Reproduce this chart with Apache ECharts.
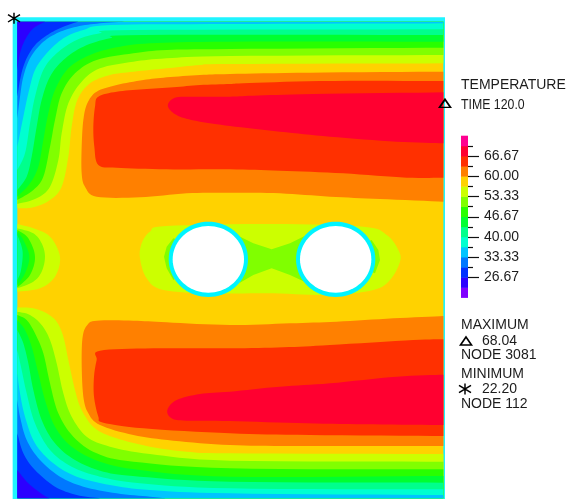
<!DOCTYPE html>
<html><head><meta charset="utf-8">
<style>html,body{margin:0;padding:0;background:#fff}#c{width:568px;height:499px}</style>
<script src="https://cdn.jsdelivr.net/npm/echarts@6/dist/echarts.min.js"></script>
</head><body><div id="c"></div>
<script>
// Legend scale: band edges and band colours (lowest first)
const bandEdges = [20,23.33,26.67,30,33.33,36.67,40,43.33,46.67,50,53.33,56.67,60,63.33,66.67,70,73.33];
const bandColors = ['#8000ff','#2c00ff','#0030ff','#0078ff','#00c4ff','#00ffd0','#00ff8c','#00ff30','#28ff00','#80ff00','#ccff00','#ffd200','#ff8000','#ff3000','#ff0030','#ff0090'];
const majorTicks = [26.67,33.33,40,46.67,53.33,60,66.67];
const minorTicks = [30,36.67,43.33,50,56.67,63.33,70];

// Plate coordinates
const plateFrame = [[38,52],[1335,52],[1335,1498],[38,1498]];
const plateInner = [[52,65],[1330,65],[1330,1495],[52,1495]];
const holeCenters = [[625,778],[1007,778]];

// Cold contours from the upper edge: T = level, running from left wall
const upper5667 = [[52,625],[100,622],[150,600],[185,560],[205,470],[215,380],[232,300],[270,250],[330,225],[400,215],[500,205],[600,195],[690,192],[1330,190]];
const upper5333 = [[52,612],[110,595],[150,560],[175,480],[185,400],[205,310],[245,245],[300,205],[400,185],[500,175],[690,168],[1330,165]];
const upper5000 = [[52,600],[100,570],[130,530],[150,440],[165,360],[185,280],[225,220],[290,180],[400,160],[500,150],[690,147],[1330,143]];
const upper4667 = [[52,590],[90,550],[115,500],[130,420],[145,340],[165,270],[205,205],[270,165],[350,142],[450,130],[690,125],[1330,125]];
const upper4333 = [[52,570],[80,530],[95,470],[110,380],[125,300],[150,230],[190,180],[250,140],[330,115],[430,105],[1330,105]];
const upper4000 = [[52,510],[75,460],[90,370],[105,290],[130,210],[170,160],[230,120],[300,100],[400,90],[1330,88]];
const upper3667 = [[52,440],[60,400],[70,350],[85,280],[105,210],[140,160],[190,115],[250,90],[330,75],[690,72],[1330,70]];
const upper3333 = [[52,355],[60,290],[70,230],[90,175],[125,130],[170,100],[230,80],[300,70],[380,65]];
const upper3000 = [[52,290],[60,240],[70,200],[85,165],[110,130],[150,100],[190,80],[235,65]];
const upper2667 = [[52,210],[60,160],[75,120],[100,85],[135,65]];

// Cold contours from the lower edge
const lower5667 = [[52,922],[100,925],[140,940],[170,965],[190,1010],[205,1080],[225,1170],[245,1230],[285,1285],[350,1315],[450,1340],[560,1355],[690,1360],[1330,1362]];
const lower5333 = [[52,935],[90,945],[125,975],[150,1020],[170,1090],[190,1180],[215,1250],[260,1310],[330,1340],[450,1362],[690,1382],[1330,1385]];
const lower5000 = [[52,945],[80,960],[105,1000],[130,1060],[150,1150],[175,1240],[220,1310],[290,1360],[400,1385],[690,1405],[1330,1408]];
const lower4667 = [[52,960],[75,990],[95,1040],[115,1120],[135,1200],[165,1280],[215,1340],[300,1385],[420,1410],[690,1430],[1330,1428]];
const lower4333 = [[52,990],[70,1030],[85,1090],[100,1170],[125,1260],[165,1330],[225,1380],[310,1415],[420,1430],[690,1445],[1330,1448]];
const lower4000 = [[52,1050],[65,1110],[80,1180],[105,1270],[150,1350],[215,1400],[300,1430],[420,1450],[690,1465],[1330,1468]];
const lower3667 = [[52,1120],[60,1180],[75,1250],[105,1330],[160,1390],[230,1430],[330,1455],[450,1470],[690,1480],[1330,1485]];
const lower3333 = [[52,1200],[60,1250],[80,1320],[120,1380],[180,1430],[250,1460],[350,1480],[450,1490],[500,1495]];
const lower3000 = [[52,1300],[70,1360],[105,1410],[165,1460],[230,1485],[300,1495]];
const lower2667 = [[52,1410],[85,1450],[130,1485],[150,1495]];

// Cold lobe on the left wall
const lobe5667 = [[52,672],[100,685],[150,710],[180,770],[165,830],[120,865],[52,875]];
const lobe5333 = [[52,685],[100,700],[125,730],[135,770],[125,815],[100,845],[52,865]];
const lobe5000 = [[52,690],[85,715],[105,770],[90,825],[52,862]];
const lobe4667 = [[52,695],[70,720],[88,770],[75,820],[52,855]];
const lobe4333 = [[52,705],[65,740],[68,770],[62,815],[52,840]];

// Cooler zones round the two holes
const holes5667 = [[420,775],[425,730],[450,695],[500,678],[820,672],[1090,680],[1160,705],[1195,750],[1200,785],[1170,840],[1120,870],[990,885],[820,880],[640,880],[490,870],[440,835]];
const holes5333 = [[520,715],[620,750],[710,705],[760,730],[815,748],[870,730],[920,705],[1010,770],[1115,720],[1135,750],[1140,780],[1125,820],[1010,770],[920,848],[870,825],[815,805],[760,825],[720,848],[620,780],[520,840],[500,805],[492,770],[500,740]];

// Hot zones
const hotUpper6000 = [[1330,215],[930,218],[690,222],[600,225],[500,232],[430,240],[350,255],[290,275],[262,310],[250,360],[245,440],[245,520],[255,560],[290,590],[420,592],[560,580],[690,578],[840,580],[990,590],[1140,597],[1330,605]];
const hotUpper6333 = [[1330,243],[960,243],[730,250],[690,252],[600,255],[520,262],[430,268],[350,275],[295,290],[285,320],[280,380],[283,440],[295,495],[350,503],[500,508],[690,508],[840,512],[1030,520],[1220,533],[1330,533]];
const hotUpper6667 = [[1330,277],[940,282],[760,287],[690,290],[600,290],[530,292],[505,310],[510,330],[540,350],[600,365],[690,378],[840,395],[990,410],[1190,425],[1330,430]];
const hotLower6000 = [[1330,948],[1180,955],[1010,965],[870,970],[690,975],[500,967],[400,962],[290,962],[262,975],[248,1010],[245,1090],[250,1190],[265,1240],[300,1275],[400,1305],[520,1322],[690,1335],[890,1338],[1330,1338]];
const hotLower6333 = [[1330,1018],[1240,1020],[990,1035],[850,1042],[690,1045],[460,1045],[300,1052],[290,1080],[282,1130],[282,1190],[295,1250],[310,1268],[430,1285],[690,1300],[930,1305],[1330,1308]];
const hotLower6667 = [[1330,1124],[1190,1130],[990,1150],[840,1160],[690,1175],[600,1182],[530,1200],[502,1230],[515,1255],[560,1262],[690,1263],[920,1270],[1120,1273],[1330,1275]];

// Node markers
const maxNode = [[1335,310],[1398,1023]];
const minNode = [[42,55],[1395,1167]];

// Regions: "curve" is rounded on screen, "tail" runs along the plate edge
const regions = [
  {curve: [], tail: plateFrame, color: '#1ff4ff'},
  {curve: [], tail: plateInner, color: bandColors[11]}
];
const add = (curve, tail, i, closed) => regions.push({curve, tail, closed, color: bandColors[i]});
const tailTop = c => (c[c.length-1][0] === 1330 ? [[1330,65]] : []).concat([[52,65]]);
const tailBottom = c => (c[c.length-1][0] === 1330 ? [[1330,1495]] : []).concat([[52,1495]]);
[upper5667,upper5333,upper5000,upper4667,upper4333,upper4000,upper3667,upper3333,upper3000,upper2667]
  .forEach((c,k) => add(c, tailTop(c), 10-k));
[lower5667,lower5333,lower5000,lower4667,lower4333,lower4000,lower3667,lower3333,lower3000,lower2667]
  .forEach((c,k) => add(c, tailBottom(c), 10-k));
[lobe5667,lobe5333,lobe5000,lobe4667,lobe4333].forEach((c,k) => add(c, [], 10-k));
add(holes5667, [], 10, true);
add([], holes5333, 9);
add(hotUpper6000,[],12); add(hotUpper6333,[],13); add(hotUpper6667,[],14);
add(hotLower6000,[],12); add(hotLower6333,[],13); add(hotLower6667,[],14);
const ringItems = [];
holeCenters.forEach(c => {
  ringItems.push({c, rx:119, ry:113, color:'#00f4ff'});
  ringItems.push({c, rx:107, ry:100, color:'#ffffff'});
});
const tickItems = majorTicks.map(v=>[v,11]).concat(minorTicks.map(v=>[v,5]));

// Screen-space Catmull-Rom rounding of a contour drawn through its read points
function rounded(p, closed){
  if(p.length<3) return p;
  const n=p.length, out=[], at=i=>closed?p[(i+n)%n]:p[Math.max(0,Math.min(n-1,i))];
  const last=closed?n:n-1;
  for(let i=0;i<last;i++){
    const a=at(i-1),b=at(i),c=at(i+1),d=at(i+2);
    for(let s=0;s<8;s++){
      const t=s/8,t2=t*t,t3=t2*t;
      out.push([0,1].map(k=>0.5*(2*b[k]+(c[k]-a[k])*t+(2*a[k]-5*b[k]+4*c[k]-d[k])*t2+(3*b[k]-a[k]-3*c[k]+d[k])*t3)));
    }
  }
  if(!closed) out.push(p[n-1]);
  return out;
}

const chart = echarts.init(document.getElementById('c'), null, {renderer:'canvas', width:568, height:499});
const txt = (text, x, y, extra) => ({type:'text', x, y, silent:true, ...extra,
  style:{text, fontFamily:'Liberation Sans', fontSize:14, fill:'#1c1c1c', verticalAlign:'middle'}});
chart.setOption({
  animation:false,
  backgroundColor:'#fff',
  grid:[
    {left:0, top:0, width:568, height:499, containLabel:false},
    {left:461, top:135.7, width:7, height:161.7, containLabel:false}
  ],
  xAxis:[
    {gridIndex:0, type:'value', min:0, max:1704, show:false},
    {gridIndex:1, type:'value', min:0, max:1, show:false}
  ],
  yAxis:[
    {gridIndex:0, type:'value', min:0, max:1497, inverse:true, show:false},
    {gridIndex:1, type:'value', min:20, max:73.33, position:'right',
     axisLine:{show:false}, splitLine:{show:false}, axisTick:{show:false},
     axisLabel:{show:true, customValues:majorTicks, margin:16, color:'#1c1c1c', fontFamily:'Liberation Sans', fontSize:14,
       formatter:v=>Number(v).toFixed(2)}}
  ],
  series:[
    {type:'custom', xAxisIndex:0, yAxisIndex:0, silent:true, clip:false,
     data:regions.map((r,i)=>[(r.curve[0]||r.tail[0])[0], (r.curve[0]||r.tail[0])[1], i]),
     renderItem:(p,api)=>{
       const r=regions[p.dataIndex];
       const pts=rounded(r.curve.map(q=>api.coord(q)), r.closed).concat(r.tail.map(q=>api.coord(q)));
       return {type:'polygon', shape:{points:pts}, style:{fill:r.color}};
     }},
    {type:'custom', xAxisIndex:0, yAxisIndex:0, silent:true, clip:false,
     data:ringItems.map((r,i)=>[r.c[0], r.c[1], i]),
     renderItem:(p,api)=>{
       const r=ringItems[p.dataIndex], pts=[];
       for(let a=0;a<72;a++){const t=a/72*2*Math.PI; pts.push(api.coord([r.c[0]+r.rx*Math.cos(t), r.c[1]+r.ry*Math.sin(t)]));}
       return {type:'polygon', shape:{points:pts}, style:{fill:r.color}};
     }},
    {type:'custom', xAxisIndex:1, yAxisIndex:1, silent:true,
     data:bandColors.map((c,i)=>[0, bandEdges[i], bandEdges[i+1], i]),
     renderItem:(p,api)=>{
       const i=p.dataIndex, a=api.coord([0,bandEdges[i]]), b=api.coord([1,bandEdges[i+1]]);
       return {type:'rect', shape:{x:a[0], y:b[1], width:b[0]-a[0], height:a[1]-b[1]+0.5}, style:{fill:bandColors[i]}};
     }},
    {type:'custom', xAxisIndex:1, yAxisIndex:1, silent:true, clip:false,
     data:tickItems.map(t=>[1,t[0],t[1]]),
     renderItem:(p,api)=>{
       const t=tickItems[p.dataIndex], a=api.coord([1,t[0]]), y=Math.round(a[1])+0.5;
       return {type:'line', shape:{x1:a[0], y1:y, x2:a[0]+t[1], y2:y}, style:{stroke:'#111', lineWidth:1.2}};
     }},
    {type:'scatter', xAxisIndex:0, yAxisIndex:0, silent:true, data:maxNode, clip:false,
     symbol:'path://M6 0L12 10L0 10Z', symbolSize:[11,8],
     itemStyle:{color:'rgba(255,255,255,0)', borderColor:'#000', borderWidth:1.6, opacity:1}},
    {type:'scatter', xAxisIndex:0, yAxisIndex:0, silent:true, data:minNode, clip:false,
     symbol:'path://M6 0L6 12M0 2L12 10M12 2L0 10', symbolSize:[12,11],
     itemStyle:{color:'rgba(255,255,255,0)', borderColor:'#000', borderWidth:1.4, opacity:1}}
  ],
  graphic:[
    txt('TEMPERATURE',461,85),
    txt('TIME 120.0',461,105,{scaleX:0.88}),
    txt('MAXIMUM',461,325),
    txt('68.04',482,341),
    txt('NODE 3081',461,355),
    txt('MINIMUM',461,374),
    txt('22.20',482,389),
    txt('NODE 112',461,404)
  ]
});
</script></body></html>
